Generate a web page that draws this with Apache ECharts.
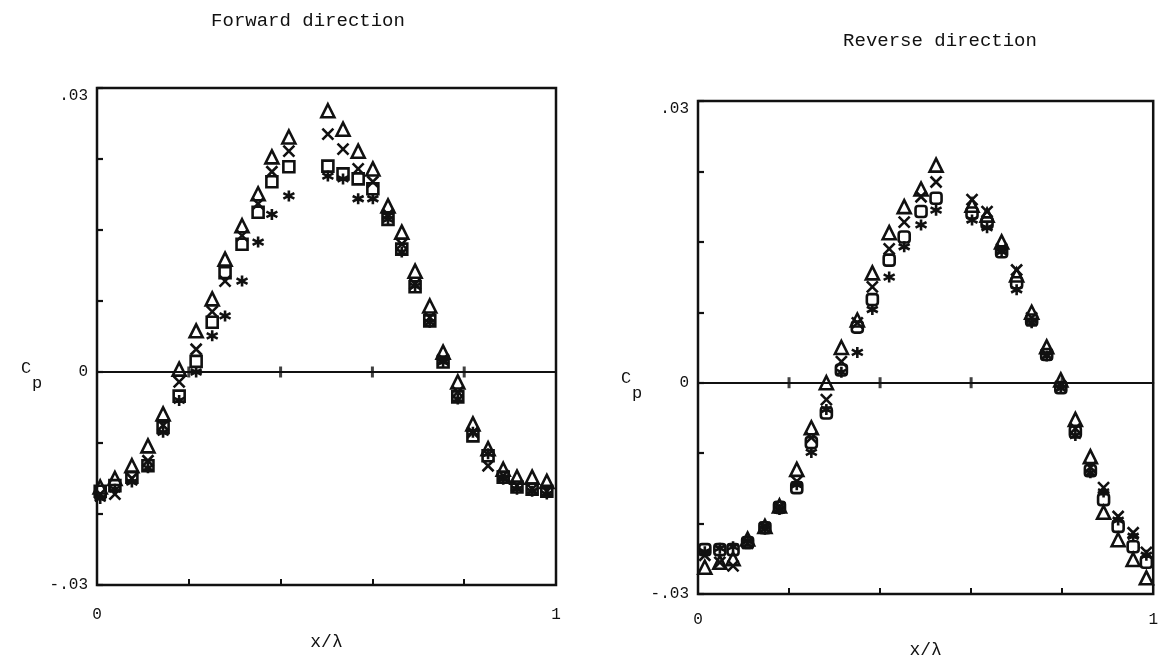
<!DOCTYPE html>
<html><head><meta charset="utf-8">
<script src="https://cdn.jsdelivr.net/npm/echarts@6/dist/echarts.min.js"></script>
<style>html,body{margin:0;padding:0;background:#fff}#c{width:1161px;height:665px}</style>
</head><body><div id="c"></div>
<script>
// ---- Forward direction ----
const fwdX   = [0.007,0.039,0.076,0.111,0.144,0.179,0.216,0.251,0.279,0.316,0.351,0.381,0.418,0.503,0.536,0.569,0.601,0.634,0.664,0.693,0.725,0.754,0.786,0.819,0.852,0.885,0.915,0.948,0.980];
const fwdTri = [-0.0162,-0.0150,-0.0132,-0.0104,-0.0059,0.0004,0.0058,0.0103,0.0159,0.0206,0.0251,0.0303,0.0331,0.0368,0.0342,0.0311,0.0286,0.0234,0.0197,0.0142,0.0093,0.0028,-0.0014,-0.0073,-0.0108,-0.0137,-0.0148,-0.0148,-0.0154];
const fwdCross = [-0.0172,-0.0172,-0.0150,-0.0125,-0.0075,-0.0014,0.0032,0.0085,0.0128,0.0192,0.0237,0.0282,0.0311,0.0335,0.0314,0.0286,0.0268,0.0222,0.0180,0.0124,0.0077,0.0018,-0.0028,-0.0085,-0.0132,-0.0146,-0.0160,-0.0165,-0.0168];
const fwdSq  = [-0.0168,-0.0160,-0.0148,-0.0132,-0.0078,-0.0034,0.0015,0.0070,0.0140,0.0180,0.0225,0.0268,0.0289,0.0290,0.0279,0.0272,0.0258,0.0215,0.0173,0.0120,0.0072,0.0014,-0.0035,-0.0090,-0.0118,-0.0148,-0.0162,-0.0165,-0.0168];
const fwdAst = [-0.0178,-0.0165,-0.0155,-0.0135,-0.0085,-0.0040,0.0000,0.0051,0.0079,0.0128,0.0183,0.0222,0.0248,0.0276,0.0272,0.0244,0.0244,0.0215,0.0169,0.0121,0.0070,0.0014,-0.0038,-0.0085,-0.0115,-0.0151,-0.0165,-0.0168,-0.0172];

// ---- Reverse direction ----
const revX   = [0.015,0.048,0.077,0.109,0.147,0.179,0.217,0.249,0.282,0.315,0.350,0.383,0.420,0.453,0.490,0.523,0.602,0.635,0.667,0.700,0.733,0.766,0.797,0.829,0.862,0.891,0.923,0.956,0.985];
const revTri = [-0.0262,-0.0255,-0.0250,-0.0222,-0.0204,-0.0175,-0.0123,-0.0064,0.0000,0.0050,0.0089,0.0156,0.0213,0.0250,0.0275,0.0309,0.0252,0.0238,0.0200,0.0153,0.0100,0.0051,0.0004,-0.0052,-0.0105,-0.0184,-0.0223,-0.0251,-0.0277];
const revCross = [-0.0245,-0.0255,-0.0260,-0.0228,-0.0206,-0.0177,-0.0140,-0.0078,-0.0024,0.0030,0.0085,0.0136,0.0190,0.0228,0.0264,0.0285,0.0260,0.0243,0.0190,0.0160,0.0092,0.0040,-0.0005,-0.0065,-0.0120,-0.0149,-0.0190,-0.0213,-0.0241];
const revSq  = [-0.0237,-0.0237,-0.0237,-0.0227,-0.0206,-0.0177,-0.0149,-0.0085,-0.0043,0.0018,0.0079,0.0118,0.0174,0.0207,0.0243,0.0262,0.0241,0.0227,0.0186,0.0142,0.0089,0.0040,-0.0007,-0.0070,-0.0125,-0.0166,-0.0204,-0.0233,-0.0255];
const revAst = [-0.0240,-0.0235,-0.0233,-0.0225,-0.0208,-0.0180,-0.0145,-0.0099,-0.0038,0.0015,0.0043,0.0104,0.0150,0.0193,0.0224,0.0245,0.0231,0.0220,0.0186,0.0132,0.0085,0.0038,-0.0008,-0.0075,-0.0128,-0.0155,-0.0195,-0.0218,-0.0245];

// ---- ticks / labels ----
const yTickValues = [-0.03, 0, 0.04];
const yTickLabels = ['-.03', '0', '.03'];
const xTickValues = [0, 1];
const xTickLabels = ['0', '1'];
const zeroLineTicks = [0.2, 0.4, 0.6, 0.8];
const titles = ['Forward direction', 'Reverse direction'];
const xName = 'x/\u03bb';

const FONT = '"Liberation Mono", "DejaVu Sans Mono", monospace';
const INK = '#111';

function lookup(vals, labels, v) {
  for (let i = 0; i < vals.length; i++) if (Math.abs(vals[i] - v) < 1e-9) return labels[i];
  return '';
}
function zip(xs, ys) { return xs.map((x, i) => [x, ys[i]]); }

const crossPath = 'path://M0,0L10,10M10,0L0,10';
const astPath = 'path://M5,0L5,10M0.7,2.5L9.3,7.5M9.3,2.5L0.7,7.5';

const grids = [
  { left: 97, right: 1161 - 556, top: 88, height: 497 },
  { left: 698, right: 1161 - 1155, top: 101, height: 493 }
];

const option = {
  animation: false,
  backgroundColor: '#fff',
  title: [
    { text: titles[0], left: 303, top: 6, textAlign: 'center',
      textStyle: { fontFamily: FONT, fontSize: 19, fontWeight: 'normal', color: INK } },
    { text: titles[1], left: 935, top: 26, textAlign: 'center',
      textStyle: { fontFamily: FONT, fontSize: 19, fontWeight: 'normal', color: INK } }
  ],
  grid: grids.map(g => Object.assign({ show: true, borderColor: INK, borderWidth: 2.5, backgroundColor: 'transparent', containLabel: false }, g)),
  xAxis: [],
  yAxis: [],
  graphic: [
    { type: 'text', left: 21, top: 360, style: { text: 'C', font: '17px ' + FONT, fill: INK } },
    { type: 'text', left: 32, top: 375, style: { text: 'p', font: '17px ' + FONT, fill: INK } },
    { type: 'text', left: 621, top: 370, style: { text: 'C', font: '17px ' + FONT, fill: INK } },
    { type: 'text', left: 632, top: 385, style: { text: 'p', font: '17px ' + FONT, fill: INK } }
  ],
  series: []
};

const nameGaps = [48, 47];
const xLabelMargins = [22, 18];
for (let g = 0; g < 2; g++) {
  option.xAxis.push({
    gridIndex: g, type: 'value', min: 0, max: 1, interval: 0.2, position: 'bottom',
    name: xName, nameLocation: 'middle', nameGap: nameGaps[g],
    nameTextStyle: { fontFamily: FONT, fontSize: 18, color: INK },
    axisLine: { show: false, onZero: false },
    axisTick: { show: true, inside: true, length: 6, lineStyle: { color: INK, width: 2 } },
    axisLabel: { margin: xLabelMargins[g], fontFamily: FONT, fontSize: 16, color: INK,
      formatter: v => lookup(xTickValues, xTickLabels, v) },
    splitLine: { show: false }
  });
  option.xAxis.push({
    gridIndex: g, type: 'value', min: 0, max: 1, interval: 0.2, position: 'top',
    axisLine: { show: true, onZero: true, lineStyle: { color: INK, width: 2.2 } },
    axisTick: { show: false }, axisLabel: { show: false }, splitLine: { show: false }
  });
  option.yAxis.push({
    gridIndex: g, type: 'value', min: -0.03, max: 0.04, interval: 0.01,
    axisLine: { show: false, onZero: false },
    axisTick: { show: true, inside: true, length: 6, lineStyle: { color: INK, width: 2.2 } },
    axisLabel: { margin: 9, fontFamily: FONT, fontSize: 16, color: INK,
      formatter: v => {
        const t = lookup(yTickValues, yTickLabels, v);
        return Math.abs(v - 0.04) < 1e-9 ? '{top|' + t + '}' : t;
      },
      rich: { top: { fontFamily: FONT, fontSize: 16, color: INK, padding: [16, 0, 0, 0] } } },
    splitLine: { show: false }
  });
}

function scat(xIdx, yIdx, data, symbol, size, z) {
  return {
    type: 'scatter', xAxisIndex: xIdx, yAxisIndex: yIdx, data, symbol, symbolSize: size, z: z || 2,
    itemStyle: { color: 'transparent', borderColor: INK, borderWidth: 2.6, opacity: 1 },
    emphasis: { disabled: true }, silent: true
  };
}

const sets = [
  { x: fwdX, tri: fwdTri, cross: fwdCross, sq: fwdSq, ast: fwdAst, sqSym: 'rect' },
  { x: revX, tri: revTri, cross: revCross, sq: revSq, ast: revAst, sqSym: 'roundRect' }
];
sets.forEach((s, g) => {
  const xi = g * 2, yi = g;
  option.series.push(scat(xi, yi, zip(s.x, s.ast), astPath, 11, 2));
  option.series.push(scat(xi, yi, zip(s.x, s.sq), s.sqSym, 11, 3));
  option.series.push(scat(xi, yi, zip(s.x, s.cross), crossPath, 11, 4));
  option.series.push(scat(xi, yi, zip(s.x, s.tri), 'triangle', 13, 5));
  option.series.push({
    type: 'scatter', xAxisIndex: xi, yAxisIndex: yi,
    data: zeroLineTicks.map(v => [v, 0]), symbol: 'rect', symbolSize: [3, 11],
    itemStyle: { color: INK }, silent: true, z: 6
  });
});

const chart = echarts.init(document.getElementById('c'), null, { renderer: 'canvas' });
chart.setOption(option);
</script>
</body></html>
